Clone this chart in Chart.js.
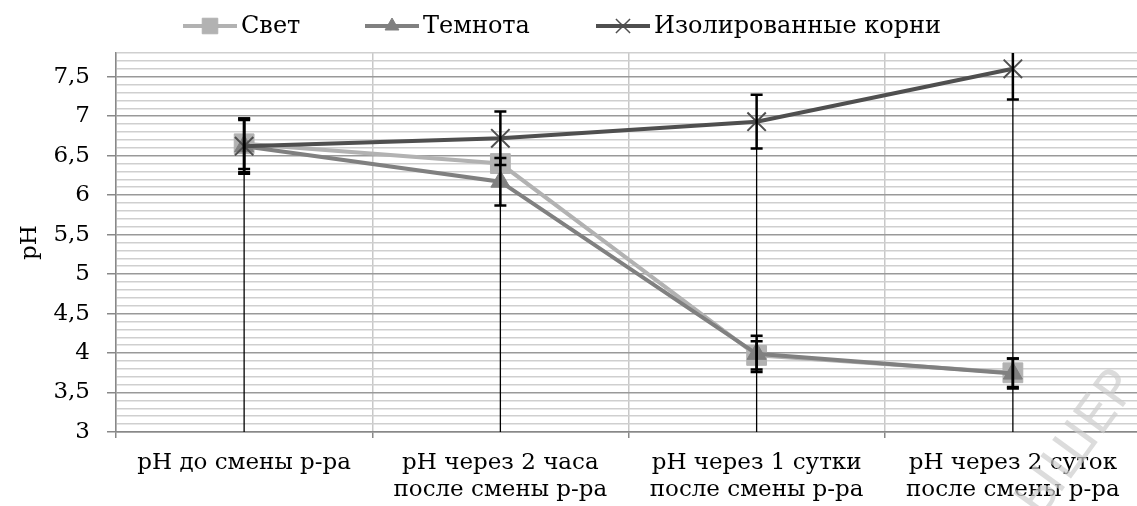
<!DOCTYPE html>
<html>
<head>
<meta charset="utf-8">
<script src="https://cdn.jsdelivr.net/npm/chart.js@4"></script>
<style>
    html, body { margin: 0; padding: 0; background: #fff; overflow: hidden; width: 1137px; height: 506px; }
</style>
</head>
<body>
<canvas id="ph-chart" width="1160" height="506"></canvas>
<script>
// === Data ===
const categories = [
    ["pH до смены р-ра"],
    ["pH через 2 часа", "после смены р-ра"],
    ["pH через 1 сутки", "после смены р-ра"],
    ["pH через 2 суток", "после смены р-ра"],
];
const seriesNames = ["Свет", "Темнота", "Изолированные корни"];
const svetValues = [6.65, 6.40, 3.97, 3.75];
const temnotaValues = [6.62, 6.17, 3.99, 3.74];
const korniValues = [6.62, 6.72, 6.93, 7.60];
const svetErrors = [0.32, 0, 0.18, 0.18];
const temnotaErrors = [0.33, 0.30, 0.23, 0.19];
const korniErrors = [0.35, 0.34, 0.34, 0.39];
const yMin = 3;
const yMax = 7.8;

const FONT = "'DejaVu Serif', 'Liberation Serif', serif";
const FONT_SIZE = 23;

const seriesStyles = [
    { color: "#b2b2b2", pointStyle: "rect", radius: 14, legendRadius: 11 },
    { color: "#808080", pointStyle: "triangle", radius: 11, legendRadius: 8 },
    { color: "#4f4f4f", pointStyle: "crossRot", radius: 13, legendRadius: 10 },
];
const legendStarts = [183, 365, 596];

const formatTick = (v) => {
    const r = Math.round(v * 10) / 10;
    if (Math.abs(r * 2 - Math.round(r * 2)) > 1e-6) return "";
    return String(r).replace(".", ",");
};
const isMajor = (v) => Math.abs(v * 2 - Math.round(v * 2)) < 1e-6;

// === Error bars and drop lines ===
const errorBarPlugin = {
    id: "errorBars",
    beforeDatasetsDraw(chart) {
        const { ctx, chartArea, scales } = chart;
        ctx.save();
        ctx.strokeStyle = "#000";
        ctx.lineWidth = 1.3;
        categories.forEach((_, j) => {
            const top = Math.max(svetValues[j], temnotaValues[j], korniValues[j]);
            const x = scales.x.getPixelForValue(j);
            ctx.beginPath();
            ctx.moveTo(x, scales.y.getPixelForValue(top));
            ctx.lineTo(x, chartArea.bottom);
            ctx.stroke();
        });
        ctx.restore();
    },
    afterDatasetsDraw(chart) {
        const { ctx, chartArea, scales } = chart;
        const errs = [svetErrors, temnotaErrors, korniErrors];
        const vals = [svetValues, temnotaValues, korniValues];
        ctx.save();
        ctx.beginPath();
        ctx.rect(chartArea.left, chartArea.top, chartArea.right - chartArea.left, chartArea.bottom - chartArea.top);
        ctx.clip();
        ctx.strokeStyle = "#000";
        ctx.lineWidth = 2.5;
        vals.forEach((series, i) => {
            series.forEach((v, j) => {
                const e = errs[i][j];
                if (!e) return;
                const x = scales.x.getPixelForValue(j);
                const yTop = scales.y.getPixelForValue(v + e);
                const yBot = scales.y.getPixelForValue(v - e);
                ctx.beginPath();
                ctx.moveTo(x, yTop);
                ctx.lineTo(x, yBot);
                ctx.moveTo(x - 6, yTop);
                ctx.lineTo(x + 6, yTop);
                ctx.moveTo(x - 6, yBot);
                ctx.lineTo(x + 6, yBot);
                ctx.stroke();
            });
        });
        ctx.restore();
    },
};

// === Legend with line + marker ===
const legendPlugin = {
    id: "lineLegend",
    afterDraw(chart) {
        const { ctx } = chart;
        const y = 26;
        ctx.save();
        ctx.font = `24px ${FONT}`;
        ctx.textBaseline = "middle";
        ctx.textAlign = "left";
        seriesNames.forEach((name, i) => {
            const st = seriesStyles[i];
            const x = legendStarts[i];
            ctx.strokeStyle = st.color;
            ctx.lineWidth = 4;
            ctx.beginPath();
            ctx.moveTo(x, y);
            ctx.lineTo(x + 54, y);
            ctx.stroke();
            ctx.fillStyle = st.color;
            ctx.lineWidth = st.pointStyle === "crossRot" ? 1.5 : 1;
            Chart.helpers.drawPoint(ctx, {
                pointStyle: st.pointStyle,
                radius: st.legendRadius,
                rotation: 0,
                borderWidth: ctx.lineWidth,
            }, x + 27, y);
            ctx.fillStyle = "#000";
            ctx.fillText(name, x + 58, y + 1);
        });
        ctx.restore();
    },
};

// === Watermark fragment ===
const watermarkPlugin = {
    id: "watermark",
    afterDraw(chart) {
        const { ctx } = chart;
        ctx.save();
        ctx.translate(1030, 512);
        ctx.rotate(-54 * Math.PI / 180);
        ctx.font = "52px 'DejaVu Sans', sans-serif";
        ctx.fillStyle = "rgba(205, 205, 205, 0.7)";
        ctx.textBaseline = "middle";
        ctx.fillText("ЫШЕР", 0, 0);
        ctx.restore();
    },
};

// === Build datasets ===
const makeDataset = (label, data, st, order) => ({
    label,
    data,
    borderColor: st.color,
    backgroundColor: st.color,
    borderWidth: 4,
    pointStyle: st.pointStyle,
    pointRadius: st.radius,
    pointBorderWidth: st.pointStyle === "crossRot" ? 2 : 1,
    pointBackgroundColor: st.color,
    pointBorderColor: st.color,
    tension: 0,
    fill: false,
    order,
});

const ctx = document.getElementById("ph-chart").getContext("2d");
new Chart(ctx, {
    type: "line",
    data: {
        labels: categories,
        datasets: [
            makeDataset(seriesNames[0], svetValues, seriesStyles[0], 2),
            makeDataset(seriesNames[1], temnotaValues, seriesStyles[1], 1),
            makeDataset(seriesNames[2], korniValues, seriesStyles[2], 0),
        ],
    },
    options: {
        responsive: false,
        animation: false,
        layout: { padding: { top: 53, right: 19, left: 0, bottom: 0 } },
        plugins: {
            legend: { display: false },
            tooltip: { enabled: false },
        },
        scales: {
            x: {
                offset: true,
                grid: {
                    offset: true,
                    color: "#c8c8c8",
                    lineWidth: 1.5,
                    tickLength: 6,
                    tickColor: "#888",
                },
                border: { color: "#888", width: 1.5 },
                ticks: {
                    color: "#000",
                    maxRotation: 0,
                    autoSkip: false,
                    padding: 11,
                    font: { family: FONT, size: FONT_SIZE, lineHeight: 1.2 },
                },
                afterFit: (scale) => { scale.height = 74; },
            },
            y: {
                min: yMin,
                max: yMax,
                title: {
                    display: true,
                    text: "pH",
                    color: "#000",
                    padding: { top: 16, bottom: 4 },
                    font: { family: FONT, size: FONT_SIZE },
                },
                grid: {
                    color: (c) => (isMajor(c.tick.value) ? "#999" : "#cfcfcf"),
                    lineWidth: 1.5,
                    tickLength: 9,
                    tickColor: (c) => (isMajor(c.tick.value) ? "#888" : "rgba(0,0,0,0)"),
                },
                border: { color: "#888", width: 1.5 },
                ticks: {
                    stepSize: 0.1,
                    autoSkip: false,
                    color: "#000",
                    padding: 17,
                    font: { family: FONT, size: FONT_SIZE },
                    callback: (v) => formatTick(v),
                },
                afterFit: (scale) => { scale.width = 116; },
            },
        },
    },
    plugins: [errorBarPlugin, legendPlugin, watermarkPlugin],
});
</script>
</body>
</html>
